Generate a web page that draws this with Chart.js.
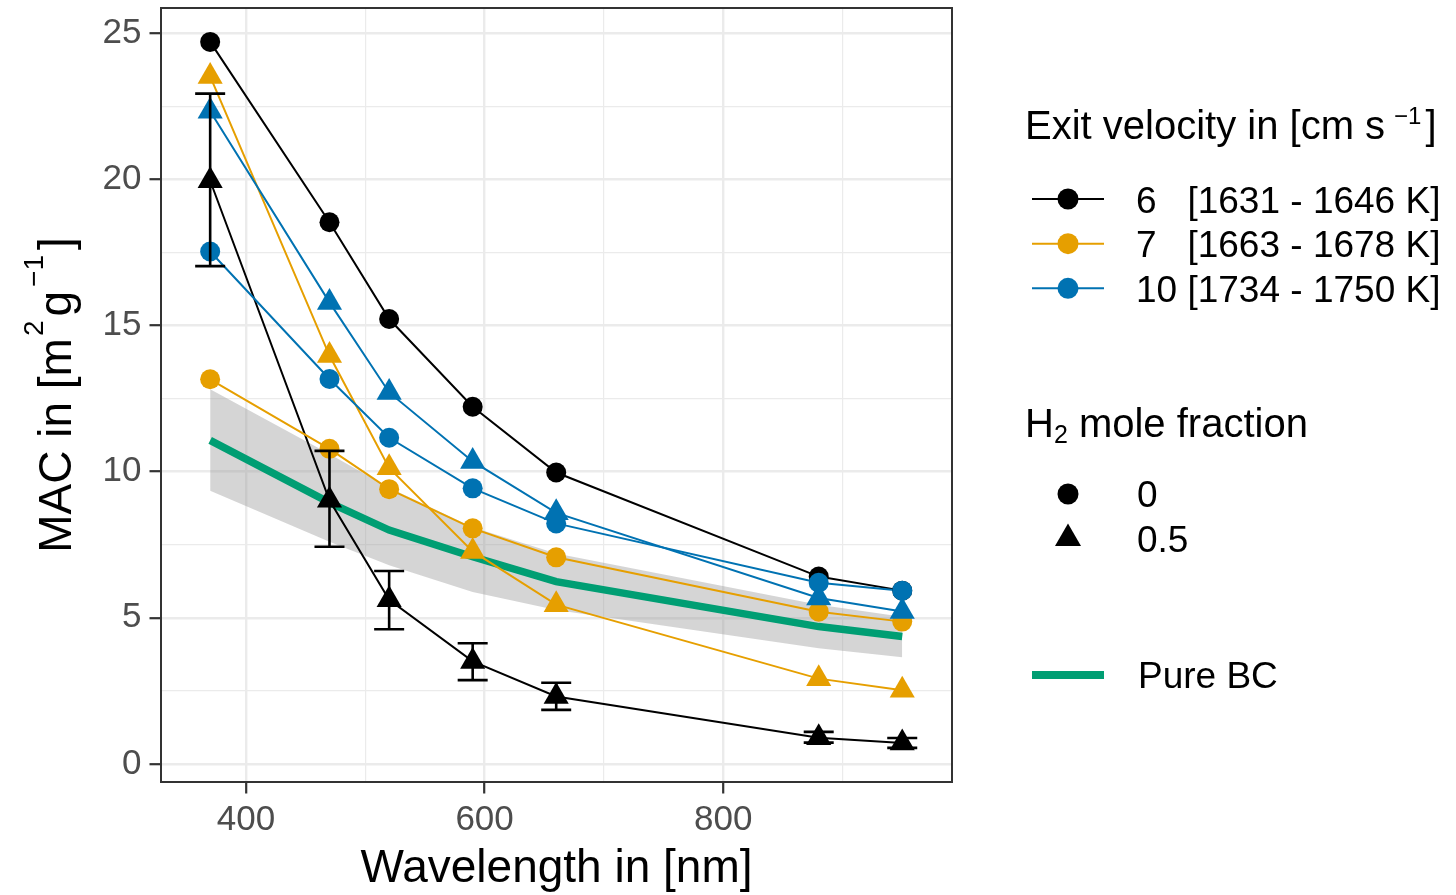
<!DOCTYPE html>
<html><head><meta charset="utf-8">
<script src="https://cdn.jsdelivr.net/npm/chart.js@4.4.1/dist/chart.umd.min.js"></script>
<style>html,body{margin:0;padding:0;background:#fff;overflow:hidden}#wrap{position:relative;width:1456px;height:895px}canvas{display:block}</style>
</head><body><div id="wrap"><canvas id="c" width="1456" height="895"></canvas></div>
<script>
// ---------------- data ----------------
const wavelengths = [370, 470, 520, 590, 660, 880, 950];
const v6_h0   = [24.70, 18.53, 15.22, 12.22, 9.97, 6.41, 5.93];
const v6_h05  = [19.95, 9.02, 5.62, 3.51, 2.31, 0.90, 0.72];
const v6_h05_low  = [17.03, 7.43, 4.61, 2.87, 1.85, 0.73, 0.55];
const v6_h05_high = [22.93, 10.71, 6.60, 4.13, 2.78, 1.10, 0.89];
const v7_h0   = [13.16, 10.78, 9.40, 8.06, 7.07, 5.21, 4.87];
const v7_h05  = [23.52, 13.97, 10.13, 7.27, 5.45, 2.92, 2.52];
const v10_h0  = [17.53, 13.17, 11.16, 9.43, 8.23, 6.20, 5.93];
const v10_h05 = [22.33, 15.79, 12.71, 10.35, 8.59, 5.68, 5.22];
const pureBC      = [11.07, 8.94, 8.00, 7.09, 6.24, 4.70, 4.36];
const pureBC_low  = [9.35, 7.60, 6.80, 5.88, 5.27, 3.96, 3.65];
const pureBC_high = [12.82, 10.60, 9.45, 8.10, 7.20, 5.45, 5.04];

const seriesLabels = ['6   [1631 - 1646 K]', '7   [1663 - 1678 K]', '10 [1734 - 1750 K]'];
const h2Labels = ['0', '0.5'];
const pureLabel = 'Pure BC';
const xTickValues = [400, 500, 600, 700, 800, 900];
const xMajorTicks = [400, 600, 800];
const yTickValues = [0, 2.5, 5, 7.5, 10, 12.5, 15, 17.5, 20, 22.5, 25];
const yMajorTicks = [0, 5, 10, 15, 20, 25];

// ---------------- styles ----------------
const FONT = '"Liberation Sans", Arial, Helvetica, sans-serif';
const C_BLACK = '#000000', C_ORANGE = '#E69F00', C_BLUE = '#0072B2', C_GREEN = '#009E73';
const CIRCLE_R = 10, TRI_R = 14.5;

function pts(ys) { return wavelengths.map((w, i) => ({x: w, y: ys[i]})); }
function lineDs(ys, color, order) {
  return {data: pts(ys), borderColor: color, borderWidth: 2, pointRadius: 0, pointHoverRadius: 0,
          fill: false, tension: 0, order: order};
}
function pointDs(ys, color, style, r, order) {
  return {data: pts(ys), showLine: false, pointStyle: style, pointRadius: r, pointHoverRadius: r,
          pointBackgroundColor: color, pointBorderColor: color, pointBorderWidth: 0, order: order};
}

const datasets = [
  {data: pts(pureBC_low), borderWidth: 0, pointRadius: 0, fill: false, order: 101, borderColor: 'rgba(0,0,0,0)'},
  {data: pts(pureBC_high), borderWidth: 0, pointRadius: 0, fill: '-1', backgroundColor: 'rgba(150,150,150,0.4)', order: 100, borderColor: 'rgba(0,0,0,0)'},
  {data: pts(pureBC), borderColor: C_GREEN, borderWidth: 7.5, pointRadius: 0, fill: false, order: 90},
  lineDs(v6_h0, C_BLACK, 60), lineDs(v6_h05, C_BLACK, 59),
  lineDs(v7_h0, C_ORANGE, 58), lineDs(v7_h05, C_ORANGE, 57),
  lineDs(v10_h0, C_BLUE, 56), lineDs(v10_h05, C_BLUE, 55),
  pointDs(v6_h0, C_BLACK, 'circle', CIRCLE_R, 30), pointDs(v6_h05, C_BLACK, 'triangle', TRI_R, 29),
  pointDs(v7_h0, C_ORANGE, 'circle', CIRCLE_R, 28), pointDs(v7_h05, C_ORANGE, 'triangle', TRI_R, 27),
  pointDs(v10_h0, C_BLUE, 'circle', CIRCLE_R, 26), pointDs(v10_h05, C_BLUE, 'triangle', TRI_R, 25)
];

// ---------------- helpers ----------------
function drawRich(ctx, segs, x, y, align) {
  let total = 0;
  segs.forEach(s => {
    if (s.t === undefined) { s.w = s.gap; }
    else { ctx.font = s.s + 'px ' + FONT; s.w = ctx.measureText(s.t).width; }
    total += s.w;
  });
  let cx = align === 'center' ? x - total / 2 : x;
  ctx.textAlign = 'left';
  segs.forEach(s => {
    if (s.t !== undefined) { ctx.font = s.s + 'px ' + FONT; ctx.fillText(s.t, cx, y + (s.dy || 0)); }
    cx += s.w;
  });
}
function drawCircle(ctx, x, y, r, color) { ctx.fillStyle = color; ctx.beginPath(); ctx.arc(x, y, r, 0, Math.PI * 2); ctx.fill(); }
function drawTriangle(ctx, x, y, r, color) {
  ctx.fillStyle = color; ctx.beginPath();
  let a = 0;
  ctx.moveTo(x + Math.sin(a) * r, y - Math.cos(a) * r);
  a += 2 * Math.PI / 3; ctx.lineTo(x + Math.sin(a) * r, y - Math.cos(a) * r);
  a += 2 * Math.PI / 3; ctx.lineTo(x + Math.sin(a) * r, y - Math.cos(a) * r);
  ctx.closePath(); ctx.fill();
}
function zeroPad(s) { s.paddingTop = 0; s.paddingBottom = 0; s.paddingLeft = 0; s.paddingRight = 0; }

// ---------------- plugins ----------------
const errorBarPlugin = {
  id: 'errorBars',
  afterDatasetsDraw(chart) {
    const ctx = chart.ctx, xs = chart.scales.x, ys = chart.scales.y;
    ctx.save();
    ctx.strokeStyle = C_BLACK; ctx.lineWidth = 2.6; ctx.lineCap = 'butt';
    wavelengths.forEach((w, i) => {
      const x = xs.getPixelForValue(w);
      const y1 = ys.getPixelForValue(v6_h05_low[i]);
      const y2 = ys.getPixelForValue(v6_h05_high[i]);
      ctx.beginPath();
      ctx.moveTo(x, y1); ctx.lineTo(x, y2);
      ctx.moveTo(x - 15, y1); ctx.lineTo(x + 15, y1);
      ctx.moveTo(x - 15, y2); ctx.lineTo(x + 15, y2);
      ctx.stroke();
    });
    const a = chart.chartArea;
    ctx.strokeStyle = '#333333'; ctx.lineWidth = 2;
    ctx.strokeRect(a.left, a.top, a.right - a.left, a.bottom - a.top);
    ctx.restore();
  }
};

const annotPlugin = {
  id: 'annot',
  afterDraw(chart) {
    const ctx = chart.ctx, a = chart.chartArea;
    ctx.save();
    ctx.fillStyle = '#000'; ctx.textBaseline = 'alphabetic';
    drawRich(ctx, [{t: 'Wavelength in [nm]', s: 46}], (a.left + a.right) / 2, 882, 'center');
    ctx.save();
    ctx.translate(71, (a.top + a.bottom) / 2);
    ctx.rotate(-Math.PI / 2);
    drawRich(ctx, [
      {t: 'MAC in [m', s: 46}, {gap: 2}, {t: '2', s: 28, dy: -28}, {gap: 4},
      {t: 'g', s: 46}, {gap: 4}, {t: '\u22121', s: 28, dy: -28}, {gap: 5}, {t: ']', s: 46}
    ], 0, 0, 'center');
    ctx.restore();

    ctx.fillStyle = '#000';
    drawRich(ctx, [{t: 'Exit velocity in [cm s', s: 40}, {gap: 9}, {t: '\u22121', s: 24, dy: -15.5}, {gap: 4}, {t: ']', s: 40}], 1025, 139, 'left');
    const rowY = [199, 243.7, 288.3];
    const cols = [C_BLACK, C_ORANGE, C_BLUE];
    rowY.forEach((y, i) => {
      ctx.strokeStyle = cols[i]; ctx.lineWidth = 2;
      ctx.beginPath(); ctx.moveTo(1032, y); ctx.lineTo(1104, y); ctx.stroke();
      drawCircle(ctx, 1068, y, 10.5, cols[i]);
      ctx.fillStyle = '#000';
      drawRich(ctx, [{t: seriesLabels[i], s: 37}], 1136, y + 13.5, 'left');
    });
    ctx.fillStyle = '#000';
    drawRich(ctx, [{t: 'H', s: 40}, {t: '2', s: 25, dy: 6.5}, {t: ' mole fraction', s: 40}], 1025, 436.7, 'left');
    drawCircle(ctx, 1068, 494, 10.5, '#000');
    ctx.fillStyle = '#000';
    drawRich(ctx, [{t: h2Labels[0], s: 37}], 1137, 507, 'left');
    drawTriangle(ctx, 1068, 538.5, 15, '#000');
    ctx.fillStyle = '#000';
    drawRich(ctx, [{t: h2Labels[1], s: 37}], 1137, 552, 'left');
    ctx.strokeStyle = C_GREEN; ctx.lineWidth = 8;
    ctx.beginPath(); ctx.moveTo(1032, 675); ctx.lineTo(1104, 675); ctx.stroke();
    ctx.fillStyle = '#000';
    drawRich(ctx, [{t: pureLabel, s: 37}], 1138, 688.3, 'left');
    ctx.restore();
  }
};

// ---------------- chart ----------------
new Chart(document.getElementById('c'), {
  type: 'line',
  data: {datasets},
  options: {
    responsive: false, animation: false, devicePixelRatio: 1,
    layout: {autoPadding: false, padding: {left: 0, top: 8, right: 504, bottom: 0}},
    plugins: {legend: {display: false}, tooltip: {enabled: false}, filler: {drawTime: 'beforeDatasetsDraw'}},
    scales: {
      x: {
        type: 'linear', min: 328.8, max: 991.7,
        afterBuildTicks: s => { s.ticks = xTickValues.map(v => ({value: v})); },
        afterFit: s => { s.height = 113; zeroPad(s); },
        border: {display: false},
        grid: {
          color: '#ebebeb',
          lineWidth: c => (c.tick && xMajorTicks.includes(c.tick.value)) ? 2.4 : 1.2,
          tickColor: c => (c.tick && xMajorTicks.includes(c.tick.value)) ? '#333333' : 'rgba(0,0,0,0)',
          tickLength: 11.5, tickWidth: 2.2, drawTicks: true
        },
        ticks: {
          color: '#4d4d4d', font: {family: FONT, size: 35}, padding: 6, maxRotation: 0, autoSkip: false,
          callback: v => xMajorTicks.includes(v) ? String(v) : ''
        }
      },
      y: {
        type: 'linear', min: -0.616, max: 25.86,
        afterBuildTicks: s => { s.ticks = yTickValues.map(v => ({value: v})); },
        afterFit: s => { s.width = 161; zeroPad(s); },
        border: {display: false},
        grid: {
          color: '#ebebeb',
          lineWidth: c => (c.tick && yMajorTicks.includes(c.tick.value)) ? 2.4 : 1.2,
          tickColor: c => (c.tick && yMajorTicks.includes(c.tick.value)) ? '#333333' : 'rgba(0,0,0,0)',
          tickLength: 11.5, tickWidth: 2.2, drawTicks: true
        },
        ticks: {
          color: '#4d4d4d', font: {family: FONT, size: 35}, padding: 8, autoSkip: false,
          callback: v => yMajorTicks.includes(v) ? String(v) : ''
        }
      }
    }
  },
  plugins: [errorBarPlugin, annotPlugin]
});
</script>
</body></html>
